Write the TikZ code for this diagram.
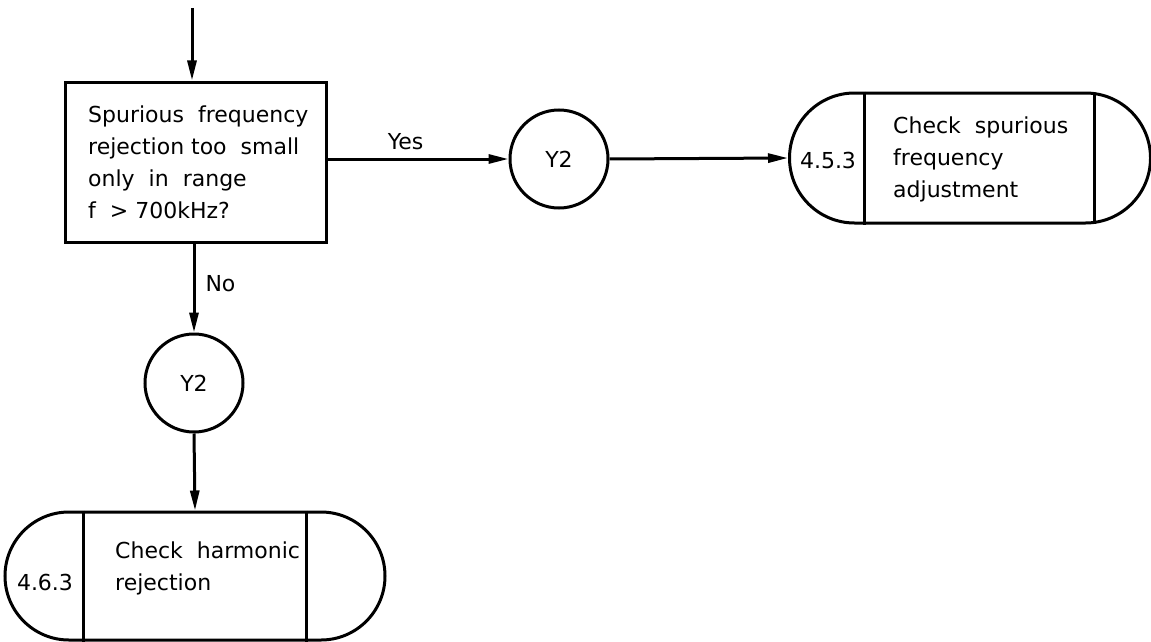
\documentclass[tikz,border=0pt]{standalone}
\usepackage{fontspec}
\setmainfont{DejaVu Sans}
\usetikzlibrary{shapes.misc,arrows.meta}
\begin{document}
\begin{tikzpicture}[x=1pt,y=-1pt,
  every node/.style={font=\fontsize{22}{32}\selectfont},
  lw/.style={line width=3pt},
  conn/.style={lw,-{Triangle[length=20pt,width=9pt]}},
  decbox/.style={lw,draw,rectangle,minimum width=261pt,minimum height=160pt,inner sep=0pt},
  conncircle/.style={lw,draw,circle,minimum size=98pt,inner sep=0pt},
  term/.style={lw,draw,rounded rectangle,inner sep=0pt},
  txt/.style={align=left,inner sep=0pt}]
\useasboundingbox (0,0) rectangle (1151,642);
% decision
\node[decbox] (dec) at (196,162) {};
\node[txt,anchor=west] (dect) at (88,162) {Spurious\ \ frequency\\rejection too\ \ small\\only\ \ in\ \ range\\f\ \ > 700kHz?};
\coordinate (top) at (192,8);
\draw[conn] (top) -- (top |- dec.north);
% yes branch
\node[conncircle] (c1) at (559,159) {Y2};
\draw[conn] (dec.east |- c1.west) -- node[above=8pt,pos=0.43,inner sep=0pt] (yes) {Yes} (c1.west);
\node[term,minimum width=361pt,minimum height=130pt] (t1) at (970,158) {};
\draw[conn] (c1.east) -- (t1.west);
\draw[lw] ([xshift=10pt]t1.north west) -- ([xshift=10pt]t1.south west);
\draw[lw] ([xshift=9pt,yshift=-1pt]t1.north east) -- ([xshift=9pt,yshift=1pt]t1.south east);
\node[txt] (n1) at (828,160) {4.5.3};
\node[txt,anchor=west] (t1t) at (893,159) {Check\ \ spurious\\frequency\\adjustment};
% no branch
\node[conncircle] (c2) at (194,383) {Y2};
\draw[conn] (dec.south -| c2.north) -- node[right=10pt,pos=0.45,inner sep=0pt] (no) {No} (c2.north);
\node[term,minimum width=380pt,minimum height=128pt] (t2) at (195,576) {};
\draw[conn] (c2.south) -- (t2.north);
\draw[lw] ([xshift=14pt]t2.north west) -- ([xshift=14pt]t2.south west);
\draw[lw] ([xshift=-15pt]t2.north east) -- ([xshift=-15pt]t2.south east);
\node[txt] (n2) at (45,582) {4.6.3};
\node[txt,anchor=west] (t2t) at (115,568) {Check\ \ harmonic\\rejection};
\end{tikzpicture}
\end{document}
